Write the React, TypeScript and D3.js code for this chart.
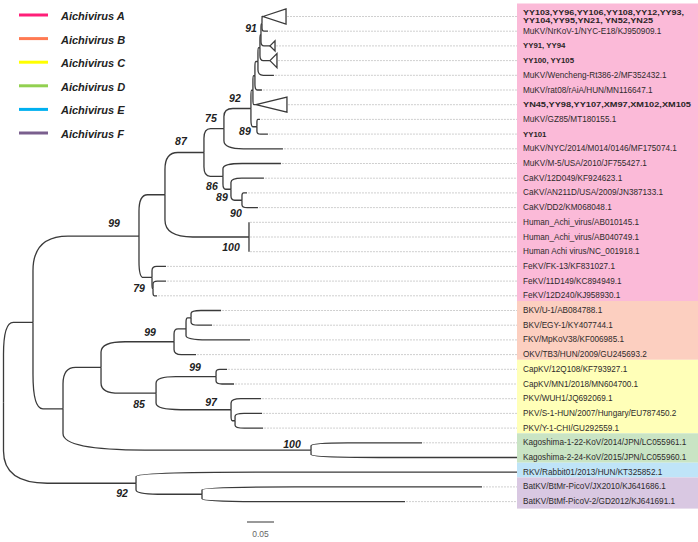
import React, { useMemo } from 'react';
import * as d3 from 'd3';

// ---------- DATA ----------
const tipLabels: string[] = [
  'YY103,YY96,YY106,YY108,YY12,YY93,\nYY104,YY95,YN21, YN52,YN25',
  'MuKV/NrKoV-1/NYC-E18/KJ950909.1',
  'YY91, YY94',
  'YY100, YY105',
  'MuKV/Wencheng-Rt386-2/MF352432.1',
  'MuKV/rat08/rAiA/HUN/MN116647.1',
  'YN45,YY98,YY107,XM97,XM102,XM105',
  'MuKV/GZ85/MT180155.1',
  'YY101',
  'MuKV/NYC/2014/M014/0146/MF175074.1',
  'MuKV/M-5/USA/2010/JF755427.1',
  'CaKV/12D049/KF924623.1',
  'CaKV/AN211D/USA/2009/JN387133.1',
  'CaKV/DD2/KM068048.1',
  'Human_Achi_virus/AB010145.1',
  'Human_Achi_virus/AB040749.1',
  'Human Achi virus/NC_001918.1',
  'FeKV/FK-13/KF831027.1',
  'FeKV/11D149/KC894949.1',
  'FeKV/12D240/KJ958930.1',
  'BKV/U-1/AB084788.1',
  'BKV/EGY-1/KY407744.1',
  'FKV/MpKoV38/KF006985.1',
  'OKV/TB3/HUN/2009/GU245693.2',
  'CapKV/12Q108/KF793927.1',
  'CapKV/MN1/2018/MN604700.1',
  'PKV/WUH1/JQ692069.1',
  'PKV/S-1-HUN/2007/Hungary/EU787450.2',
  'PKV/Y-1-CHI/GU292559.1',
  'Kagoshima-1-22-KoV/2014/JPN/LC055961.1',
  'Kagoshima-2-24-KoV/2015/JPN/LC055960.1',
  'RKV/Rabbit01/2013/HUN/KT325852.1',
  'BatKV/BtMr-PicoV/JX2010/KJ641686.1',
  'BatKV/BtMf-PicoV-2/GD2012/KJ641691.1',
];

const tipGroups: string[] = [
  'A','A','A','A','A','A','A','A','A','A','A','A','A','A','A','A','A','A','A','A',
  'B','B','B','B',
  'C','C','C','C','C',
  'D','D',
  'E',
  'F','F',
];

// collapsed clades: tip id -> clade depth (substitutions/site)
const collapsedDepth: Record<string, number> = { t0: 0.0426, t2: 0.0093, t3: 0.013, t6: 0.0574 };

// [child, parent, branch length]
const edges: [string, string, number][] = [
  ['N1', 'root', 0.0546],
  ['A', 'N1', 0.1963],
  ['NA1', 'A', 0.0481],
  ['NA2', 'NA1', 0.0722],
  ['NA3', 'NA2', 0.037],
  ['NA4', 'NA3', 0.05],
  ['LF', 'NA4', 0.0037],
  ['LE', 'LF', 0.0037],
  ['LD', 'LE', 0.0056],
  ['LC', 'LD', 0.0037],
  ['LB', 'LC', 0.0019],
  ['LA', 'LB', 0.0019],
  ['t0', 'LA', 0.0019],
  ['t1', 'LA', 0.0111],
  ['t2', 'LB', 0.0167],
  ['t3', 'LC', 0.0185],
  ['t4', 'LD', 0.0296],
  ['t5', 'LE', 0.013],
  ['t6', 'LF', 0.0056],
  ['Q', 'NA4', 0.0111],
  ['t7', 'Q', 0.0056],
  ['t8', 'Q', 0.0204],
  ['t9', 'NA3', 0.1093],
  ['C86', 'NA2', 0.0352],
  ['t10', 'C86', 0.1074],
  ['C89', 'C86', 0.0148],
  ['t11', 'C89', 0.0611],
  ['C90', 'C89', 0.0204],
  ['t12', 'C90', 0.0093],
  ['t13', 'C90', 0.0296],
  ['HU', 'NA1', 0.1556],
  ['t14', 'HU', 0],
  ['t15', 'HU', 0],
  ['t16', 'HU', 0],
  ['FE79', 'A', 0.0241],
  ['t17', 'FE79', 0.0259],
  ['FE2', 'FE79', 0.0019],
  ['t18', 'FE2', 0.0241],
  ['t19', 'FE2', 0.0074],
  ['NBCDE', 'N1', 0.0556],
  ['NBC', 'NBCDE', 0.0704],
  ['NB', 'NBC', 0.1352],
  ['NB1', 'NB', 0.0222],
  ['NB2', 'NB1', 0.0093],
  ['t20', 'NB2', 0.0556],
  ['t21', 'NB2', 0.0389],
  ['t22', 'NB1', 0.1185],
  ['t23', 'NB', 0.0407],
  ['NC', 'NBC', 0.1019],
  ['CAP', 'NC', 0.1111],
  ['t24', 'CAP', 0.0204],
  ['t25', 'CAP', 0.0333],
  ['PKV', 'NC', 0.1389],
  ['t26', 'PKV', 0.0556],
  ['PKS', 'PKV', 0.0074],
  ['t27', 'PKS', 0.05],
  ['t28', 'PKS', 0.0519],
  ['KAG', 'NBCDE', 0.4593],
  ['t29', 'KAG', 0.2056],
  ['t30', 'KAG', 0.3815],
  ['NF', 'root', 0.2454],
  ['t31', 'NF', 0.7056],
  ['BAT', 'NF', 0.1222],
  ['t32', 'BAT', 0.5185],
  ['t33', 'BAT', 0.3759],
];

const supports: [string, number][] = [
  ['A', 99], ['NA2', 87], ['NA3', 75], ['NA4', 92], ['LA', 91], ['Q', 89],
  ['C86', 86], ['C89', 89], ['C90', 90], ['HU', 100], ['FE79', 79],
  ['NB', 99], ['NC', 85], ['CAP', 99], ['PKV', 97], ['KAG', 100], ['NF', 92],
];

const legendGroups: string[] = ['A', 'B', 'C', 'D', 'E', 'F'];
const legendNames: string[] = ['Aichivirus A', 'Aichivirus B', 'Aichivirus C', 'Aichivirus D', 'Aichivirus E', 'Aichivirus F'];
const scaleBarValue = 0.05;

// ---------- STYLE / LAYOUT ----------
const legendColors: Record<string, string> = {
  A: '#ff1f78', B: '#ff7a52', C: '#ffff00', D: '#92d050', E: '#00b0f0', F: '#7a5f8e',
};
const boxColors: Record<string, string> = {
  A: '#fbbad8', B: '#fccfc0', C: '#ffffb8', D: '#c9e4c4', E: '#bfe4f8', F: '#d9c8e2',
};
const supportOffset: Record<string, [number, number]> = {
  A: [-25, -13], NA2: [-23, -12], NA3: [-13, -11], NA4: [-16, -10], LA: [-11, 4], Q: [-12, 4.5],
  C86: [-11, 10], C89: [-9, 8], C90: [-6, 13], HU: [-18, 10], FE79: [-13, 11],
  NB: [-24, -10], NC: [-17, 11], CAP: [-21, -10], PKV: [-20, -8], KAG: [-19, -6], NF: [-14, 10],
};
const triHalf: Record<string, number> = { t0: 7.5, t2: 5, t3: 7, t6: 7.5 };
// rendered widths of the long bold (collapsed-clade) labels, per line; 0 = natural width
const boldWidths: Record<string, number[]> = {
  t0: [161, 130], t2: [0], t3: [0], t6: [168], t8: [0],
};

const W = 698, H = 542;
const BOX_X = 517, LABEL_X = 523;
const FONT = '"Liberation Sans", Arial, Helvetica, sans-serif';

export default function App() {
  const xScale = d3.scaleLinear().domain([0, 1]).range([3.5, 543.5]);
  const yScale = d3.scaleLinear().domain([0, tipLabels.length - 1]).range([16.5, 501.6]);

  const layout = useMemo(() => {
    const children: Record<string, string[]> = {};
    const parentOf: Record<string, string> = {};
    const len: Record<string, number> = {};
    edges.forEach(([c, p, l]) => {
      (children[p] = children[p] || []).push(c);
      parentOf[c] = p;
      len[c] = l;
    });
    const depth: Record<string, number> = { root: 0 };
    const yv: Record<string, number> = {};
    const walk = (id: string) => {
      const ch = children[id];
      if (!ch) {
        yv[id] = +id.slice(1);
        return;
      }
      ch.forEach((c) => {
        depth[c] = depth[id] + len[c];
        walk(c);
      });
      yv[id] = (yv[ch[0]] + yv[ch[ch.length - 1]]) / 2;
    };
    walk('root');
    return { children, parentOf, depth, yv };
  }, []);

  const { parentOf, depth, yv } = layout;
  const X = (id: string) => xScale(depth[id]);
  const Y = (id: string) => yScale(yv[id]);

  const branchPath = (c: string) => {
    const p = parentOf[c];
    const x0 = X(p), y0 = Y(p), x1 = X(c), y1 = Y(c);
    if (Math.abs(y1 - y0) < 0.01) return `M${x0},${y0}H${x1}`;
    const x2 = x0 + (x1 - x0) * 0.33;
    const y2 = y1 - (y1 - y0) * 0.4;
    return `M${x0},${y0}V${y2}Q${x0},${y1} ${x2},${y1}H${x1}`;
  };

  const boxes = legendGroups.map((g, gi) => {
    const rows = tipGroups.map((t, i) => (t === g ? i : -1)).filter((i) => i >= 0);
    const first = rows[0], last = rows[rows.length - 1];
    const top = gi === 0 ? 3.5 : yScale(first) - 9.5;
    const bottom = gi === legendGroups.length - 1 ? yScale(last) + 7 : yScale(last + 1) - 9.5;
    return { g, top, bottom };
  });

  const tips = tipLabels.map((_, i) => 't' + i);

  return (
    <svg width={W} height={H} style={{ position: 'absolute', left: 0, top: 0, background: '#fff' }} fontFamily={FONT}>
      <rect x={0} y={0} width={W} height={H} fill="#fff" />
      {boxes.map((b) => (
        <rect key={b.g} x={BOX_X} y={b.top} width={W - BOX_X} height={b.bottom - b.top} fill={boxColors[b.g]} />
      ))}

      {/* leader lines */}
      {tips.map((t) => {
        const end = X(t) + (collapsedDepth[t] ? xScale(collapsedDepth[t]) - xScale(0) : 0);
        if (end >= BOX_X - 1) return null;
        return (
          <line key={'ld' + t} x1={end + 1} x2={BOX_X} y1={Y(t)} y2={Y(t)} stroke="#cacaca" strokeWidth={0.9} strokeDasharray="2,1" />
        );
      })}

      {/* branches */}
      <g fill="none" stroke="#3a3a3a" strokeWidth={1.3}>
        {edges.map(([c]) => (
          <path key={'b' + c} d={branchPath(c)} />
        ))}
        {Object.keys(collapsedDepth).map((t) => {
          const x0 = X(t), y0 = Y(t);
          const x1 = xScale(depth[t] + collapsedDepth[t]);
          const h = triHalf[t];
          return <path key={'tri' + t} d={`M${x0},${y0}L${x1},${y0 - h}L${x1},${y0 + h}Z`} fill="#fff" />;
        })}
      </g>

      {/* support values */}
      {supports.map(([id, v]) => (
        <text
          key={'s' + id}
          x={X(id) + supportOffset[id][0]}
          y={Y(id) + supportOffset[id][1]}
          fontSize={10.5}
          fontWeight="bold"
          fontStyle="italic"
          fill="#222"
          textAnchor="middle"
          dominantBaseline="central"
        >
          {v}
        </text>
      ))}

      {/* tip labels */}
      {tipLabels.map((lab, i) => {
        const t = 't' + i;
        const y = yScale(i);
        const bw = boldWidths[t];
        if (!bw) {
          return (
            <text key={'l' + i} x={LABEL_X} y={y} fontSize={8.2} fill="#2e2a2b" dominantBaseline="central">
              {lab}
            </text>
          );
        }
        const lines = lab.split('\n');
        return lines.map((ln, k) => (
          <text
            key={'l' + i + '_' + k}
            x={LABEL_X}
            y={lines.length === 1 ? y : y - 4.4 + k * 8.8}
            fontSize={lines.length === 1 ? 7.8 : 7.4}
            fontWeight="bold"
            fill="#2a2526"
            dominantBaseline="central"
            textLength={bw[k] || undefined}
            lengthAdjust={bw[k] ? 'spacingAndGlyphs' : undefined}
          >
            {ln}
          </text>
        ));
      })}

      {/* legend */}
      {legendNames.map((n, i) => {
        const ly = 15 + i * 23.6;
        return (
          <g key={'lg' + i}>
            <line x1={19} x2={48} y1={ly} y2={ly} stroke={legendColors[legendGroups[i]]} strokeWidth={3} />
            <text x={61} y={ly + 1} fontSize={11} fontWeight="bold" fontStyle="italic" fill="#222" dominantBaseline="central">
              {n}
            </text>
          </g>
        );
      })}

      {/* scale bar */}
      <line x1={247} x2={247 + xScale(scaleBarValue) - xScale(0)} y1={522} y2={522} stroke="#555" strokeWidth={1.2} />
      <text x={247 + (xScale(scaleBarValue) - xScale(0)) / 2} y={534} fontSize={8.5} fill="#666" textAnchor="middle" dominantBaseline="central">
        {String(scaleBarValue)}
      </text>
    </svg>
  );
}
